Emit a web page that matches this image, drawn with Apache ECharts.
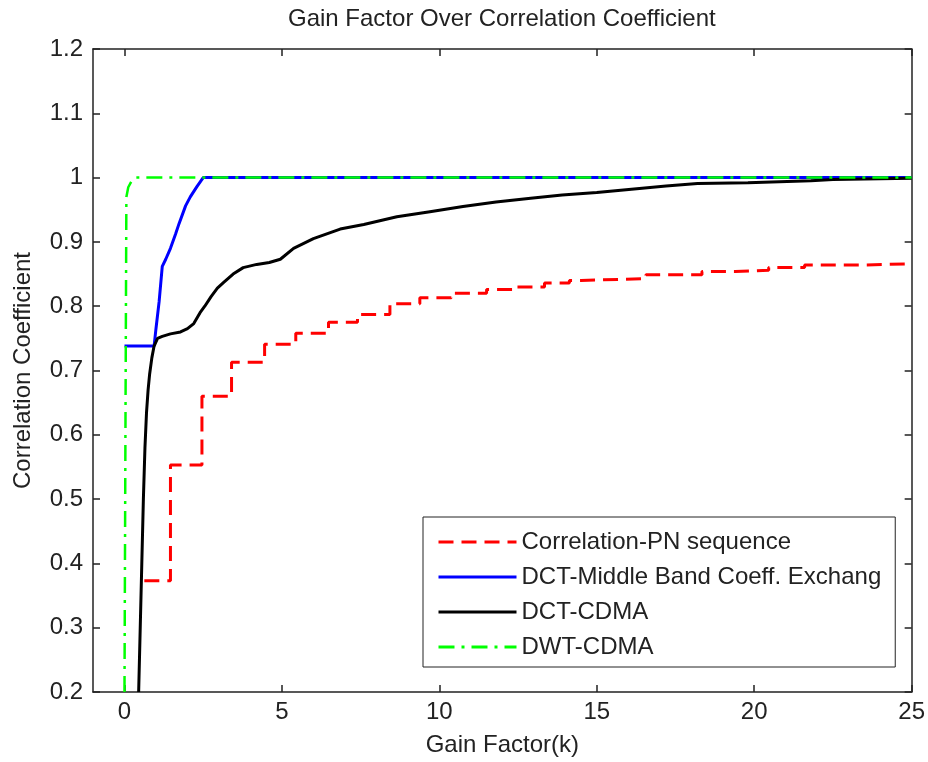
<!DOCTYPE html>
<html>
<head>
<meta charset="utf-8">
<script src="https://cdn.jsdelivr.net/npm/echarts@6/dist/echarts.min.js"></script>
<style>
  html, body { margin: 0; padding: 0; background: #fff; }
  #chart { width: 928px; height: 762px; }
</style>
</head>
<body>
<div id="chart"></div>
<script>
// series names, in legend order
const seriesNames = ['Correlation-PN sequence', 'DCT-Middle Band Coeff. Exchang', 'DCT-CDMA', 'DWT-CDMA'];

// x axis tick labels
const xTicks = [0, 5, 10, 15, 20, 25];

// Correlation-PN sequence (step curve)
const pnX = [0.63, 1.46, 2.46, 3.4, 4.45, 5.44, 6.48, 7.4, 8.43, 9.38, 10.38, 11.5, 12.39, 13.34, 14.13, 14.5, 16.56, 18.34, 19.4, 20.46, 21.6, 23.4, 25];
const pnY = [0.373, 0.553, 0.66, 0.713, 0.741, 0.758, 0.775, 0.787, 0.804, 0.813, 0.82, 0.826, 0.83, 0.836, 0.84, 0.843, 0.849, 0.854, 0.856, 0.86, 0.864, 0.866, 0.866];

// DCT-Middle Band Coeff. Exchange
const midX = [0, 0.94, 1.0, 1.1, 1.2, 1.31, 1.46, 1.62, 1.73, 1.94, 2.09, 2.3, 2.5, 25];
const midY = [0.738, 0.738, 0.765, 0.807, 0.862, 0.873, 0.89, 0.912, 0.928, 0.956, 0.97, 0.986, 1.0, 1.0];

// DCT-CDMA
const dctX = [0.45, 0.5, 0.55, 0.6, 0.65, 0.7, 0.75, 0.8, 0.87, 0.94, 1.05, 1.2, 1.46, 1.78, 2.0, 2.2, 2.4, 2.55, 2.75, 2.95, 3.15, 3.45, 3.77, 4.2, 4.6, 4.95, 5.37, 6.0, 6.85, 7.6, 8.65, 9.7, 10.75, 11.8, 12.9, 13.9, 15.0, 16.1, 17.2, 18.2, 19.8, 21.8, 22.5, 25];
const dctY = [0.2, 0.3, 0.4, 0.5, 0.58, 0.635, 0.67, 0.695, 0.72, 0.738, 0.75, 0.753, 0.757, 0.76, 0.765, 0.773, 0.79, 0.8, 0.815, 0.828, 0.837, 0.85, 0.86, 0.865, 0.868, 0.873, 0.89, 0.905, 0.92, 0.927, 0.939, 0.947, 0.955, 0.962, 0.968, 0.973, 0.977, 0.982, 0.987, 0.991, 0.992, 0.995, 0.997, 0.999];

// DWT-CDMA
const dwtX = [0, 0.03, 0.06, 0.12, 0.22, 0.35, 25];
const dwtY = [0.2, 0.6, 0.97, 0.985, 0.994, 1.0, 1.0];

const pairs = (xs, ys) => xs.map((x, i) => [x, ys[i]]);

const FONT = '"Liberation Sans", Arial, sans-serif';
const INK = '#222';

const chart = echarts.init(document.getElementById('chart'));

// shared axis look (matlab style box with inner ticks)
const axisLine = { show: true, onZero: false, lineStyle: { color: INK, width: 1.5 } };
const tickIn = { show: true, inside: true, length: 7, lineStyle: { color: INK, width: 1.5 } };

const option = {
  animation: false,
  backgroundColor: '#fff',
  title: {
    text: 'Gain Factor Over Correlation Coefficient',
    left: 288,
    top: 7,
    padding: 0,
    textStyle: { fontFamily: FONT, fontSize: 24, fontWeight: 'normal', color: INK }
  },
  grid: { left: 93, right: 15, top: 49, bottom: 67, containLabel: false },
  legend: {
    orient: 'vertical',
    left: 423,
    top: 517,
    padding: [13, 14, 8, 14],
    itemWidth: 78,
    itemHeight: 14,
    itemGap: 11,
    borderColor: INK,
    borderWidth: 1,
    backgroundColor: '#fff',
    data: seriesNames,
    itemStyle: { opacity: 0 }, // line only, no marker
    lineStyle: { width: 3 },
    textStyle: { fontFamily: FONT, fontSize: 24, color: INK }
  },
  xAxis: [
    {
      type: 'value',
      min: -1,
      max: 25,
      name: 'Gain Factor(k)',
      nameLocation: 'middle',
      nameGap: 41,
      nameTextStyle: { fontFamily: FONT, fontSize: 24, color: INK },
      axisLine: axisLine,
      axisTick: Object.assign({ customValues: xTicks }, tickIn),
      axisLabel: { customValues: xTicks, margin: 8, fontFamily: FONT, fontSize: 24, color: INK },
      splitLine: { show: false }
    },
    {
      type: 'value',
      position: 'top',
      min: -1,
      max: 25,
      axisLine: axisLine,
      axisTick: Object.assign({ customValues: xTicks }, tickIn),
      axisLabel: { show: false },
      splitLine: { show: false }
    }
  ],
  yAxis: [
    {
      type: 'value',
      min: 0.2,
      max: 1.2,
      interval: 0.1,
      name: 'Correlation Coefficient',
      nameLocation: 'middle',
      nameGap: 58,
      nameTextStyle: { fontFamily: FONT, fontSize: 24, color: INK },
      axisLine: axisLine,
      axisTick: tickIn,
      axisLabel: { margin: 10, fontFamily: FONT, fontSize: 24, color: INK },
      splitLine: { show: false }
    },
    {
      type: 'value',
      position: 'right',
      min: 0.2,
      max: 1.2,
      interval: 0.1,
      axisLine: axisLine,
      axisTick: tickIn,
      axisLabel: { show: false },
      splitLine: { show: false }
    }
  ],
  series: [
    {
      name: seriesNames[0],
      type: 'line',
      step: 'end',
      symbol: 'none',
      data: pairs(pnX, pnY),
      lineStyle: { color: '#ff0000', width: 3, type: [15, 8] },
      itemStyle: { color: '#ff0000' }
    },
    {
      name: seriesNames[1],
      type: 'line',
      symbol: 'none',
      data: pairs(midX, midY),
      lineStyle: { color: '#0000ff', width: 3 },
      itemStyle: { color: '#0000ff' }
    },
    {
      name: seriesNames[2],
      type: 'line',
      symbol: 'none',
      data: pairs(dctX, dctY),
      lineStyle: { color: '#000000', width: 3 },
      itemStyle: { color: '#000000' }
    },
    {
      name: seriesNames[3],
      type: 'line',
      symbol: 'none',
      data: pairs(dwtX, dwtY),
      lineStyle: { color: '#00ff00', width: 2.5, type: [16, 7, 3, 7] },
      itemStyle: { color: '#00ff00' }
    }
  ]
};

chart.setOption(option);
</script>
</body>
</html>
